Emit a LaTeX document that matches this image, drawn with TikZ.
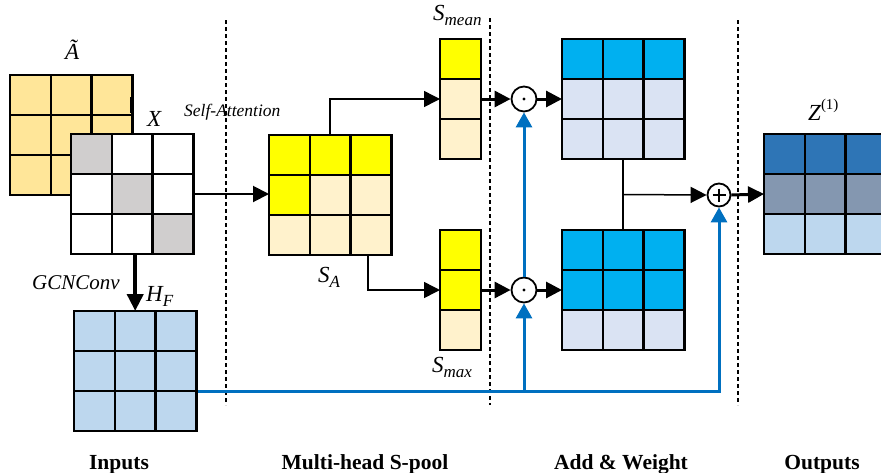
\documentclass[tikz,border=0pt]{standalone}
\usepackage{fontspec}
\setmainfont{Liberation Serif}
\usetikzlibrary{arrows.meta,calc}
\definecolor{ayel}{HTML}{FFE699}
\definecolor{gry}{HTML}{D0CECE}
\definecolor{ylw}{HTML}{FFFF00}
\definecolor{crm}{HTML}{FFF2CC}
\definecolor{hblue}{HTML}{BDD7EE}
\definecolor{cyanb}{HTML}{00B0F0}
\definecolor{pale}{HTML}{DAE3F3}
\definecolor{zdark}{HTML}{2E75B6}
\definecolor{zgray}{HTML}{8497B0}
\definecolor{lblue}{HTML}{0070C0}
\def\cw{40.8}
\def\ch{40}
\newcommand{\sbs}[1]{\raisebox{-0.22em}{\fontsize{17}{18}\selectfont #1}}
\newcommand{\sps}[1]{\raisebox{0.45em}{\fontsize{15}{16}\selectfont\upshape #1}}
\tikzset{
  cellst/.style={draw=black, line width=2.6pt},
  gridnode/.style={draw=none, inner sep=0pt, outer sep=0pt, anchor=north west},
  bigtip/.style={-{Triangle[length=16pt,width=16pt]}},
  thinarrow/.style={line width=1.5pt, bigtip},
  thickarrow/.style={line width=3pt, bigtip},
  bluearrow/.style={draw=lblue, line width=3pt, -{Triangle[length=15pt,width=16pt]}, color=lblue},
  sep/.style={draw=black, line width=1.2pt, dash pattern=on 4pt off 3pt},
  opcirc/.style={circle, draw=black, line width=1.8pt, fill=white, minimum size=25pt, inner sep=0pt},
  mlab/.style={font=\fontsize{23}{26}\selectfont\itshape, inner sep=0pt, anchor=base west},
  botlab/.style={font=\fontsize{21.5}{25}\selectfont\bfseries, anchor=base},
}
\newcommand{\mkgrid}[6]{% name, x, y, ncols, nrows, colours (row-major)
  \foreach \cl [count=\i from 0] in {#6}{%
    \pgfmathtruncatemacro{\rr}{floor(\i/#4)}%
    \pgfmathtruncatemacro{\cc}{\i-\rr*#4}%
    \draw[cellst, fill=\cl] ({#2+\cc*\cw},{#3+\rr*\ch}) rectangle ++(\cw,\ch);
  }
  \node[gridnode, minimum width={#4*\cw pt}, minimum height={#5*\ch pt}] (#1) at (#2,#3) {};
}
\begin{document}
\begin{tikzpicture}[x=1pt,y=-1pt]
\useasboundingbox (0,0) rectangle (881,472);
\clip (0,0) rectangle (881,472);
\fill[white] (0,0) rectangle (881,472);

% separators
\draw[sep] (226,20) -- (226,405);
\draw[sep] (490,18) -- (490,405);
\draw[sep] (738,20) -- (738,405);

% inputs
\mkgrid{at}{10}{75}{3}{3}{ayel,ayel,ayel,ayel,ayel,ayel,ayel,ayel,ayel}
\draw[line width=4pt] (132,97) -- (132,113);
\mkgrid{x}{71}{134}{3}{3}{gry,white,white,white,gry,white,white,white,gry}
\mkgrid{hf}{74}{311}{3}{3}{hblue,hblue,hblue,hblue,hblue,hblue,hblue,hblue,hblue}

% S-pool
\mkgrid{sa}{269}{135}{3}{3}{ylw,ylw,ylw,ylw,crm,crm,crm,crm,crm}
\mkgrid{smean}{440}{39}{1}{3}{ylw,crm,crm}
\mkgrid{smax}{440}{230}{1}{3}{ylw,ylw,crm}

% add & weight
\mkgrid{awa}{562}{39}{3}{3}{cyanb,cyanb,cyanb,pale,pale,pale,pale,pale,pale}
\mkgrid{awb}{562}{230}{3}{3}{cyanb,cyanb,cyanb,cyanb,cyanb,cyanb,pale,pale,pale}

% outputs
\mkgrid{z}{764}{134}{3}{3}{zdark,zdark,zdark,zgray,zgray,zgray,hblue,hblue,hblue}

% operators
\node[opcirc] (o1) at (524,99) {};
\fill (o1) circle (1.7pt);
\node[opcirc] (o2) at (524,290) {};
\fill (o2) circle (1.7pt);
\node[opcirc, minimum size=23pt] (pl) at (719,195) {};
\draw[line width=1.5pt] ($(pl)+(-6.5,0)$) -- ($(pl)+(6.5,0)$);
\draw[line width=1.5pt] ($(pl)+(0,-6.5)$) -- ($(pl)+(0,6.5)$);

% labels
\node[mlab] (lat) at (65,59) {Ã};
\node[mlab] (lx) at (147,126) {X};
\node[font=\fontsize{17.5}{20}\selectfont\itshape, inner sep=0pt, anchor=base west] (lself) at (184,116) {Self-Attention};
\node[font=\fontsize{21}{24}\selectfont\itshape, inner sep=0pt, anchor=base west] (lgcn) at (32,289) {GCNConv};
\node[mlab] (lhf) at (146,301) {H\sbs{F}};
\node[mlab] (lsa) at (318,282) {S\sbs{A}};
\node[mlab] (lsmean) at (433,20) {S\sbs{mean}};
\node[mlab] (lsmax) at (432,372) {S\sbs{max}};
\node[mlab] (lz) at (808,120) {Z\sps{(1)}};

\node[botlab] (bin) at (119,469) {Inputs};
\node[botlab] (bmh) at (365,469) {Multi-head S-pool};
\node[botlab] (baw) at (621,469) {Add \& Weight};
\node[botlab] (bout) at (822,469) {Outputs};

% connectors
\draw[line width=2pt, bigtip] (x.east) -- (x.east -| sa.west);
\draw[line width=4pt, -{Triangle[length=17pt,width=16pt]}] (hf.north |- x.south) -- (hf.north);
\draw[thinarrow] (sa.north) |- (smean.west);
\draw[thinarrow] ($(sa.south)+(38,0)$) |- (smax.west);
\draw[thickarrow] (smean.east) -- (o1.west);
\draw[thickarrow] (smax.east) -- (o2.west);
\draw[thickarrow] (o1.east) -- (awa.west);
\draw[thickarrow] (o2.east) -- (awb.west);
\draw[line width=1.5pt] (awa.south) -- (awb.north);
\coordinate (mid) at ($(awa.south)!0.5!(awb.north)$);
\draw[thinarrow] (mid) -- (pl.west);
\draw[thickarrow] (pl.east) -- (z.west);

\coordinate (bs) at (198,391);
\draw[bluearrow] (bs) -| (pl.south);
\draw[bluearrow] (o2.south |- bs) -- (o2.south);
\draw[bluearrow] (o2.north) -- (o1.south);
\end{tikzpicture}
\end{document}
